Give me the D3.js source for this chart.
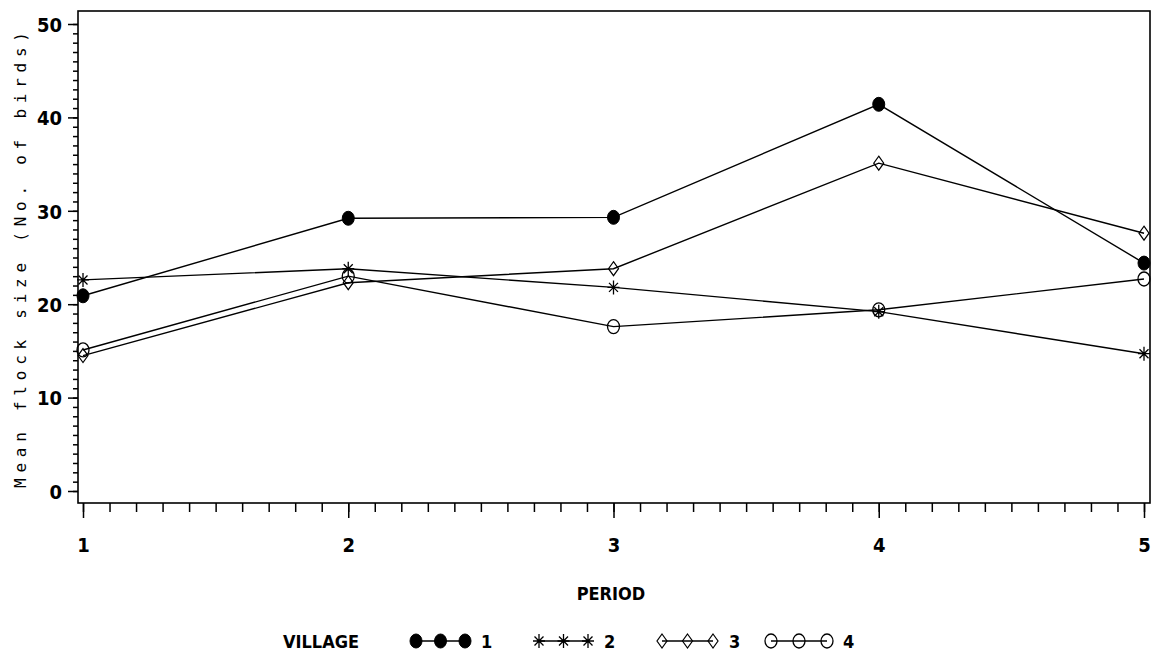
<!DOCTYPE html>
<html>
<head>
<meta charset="utf-8">
<script src="https://cdn.jsdelivr.net/npm/d3@7"></script>
<style>
  html, body { margin: 0; padding: 0; background: #fff; }
  svg { display: block; }
  text { font-family: "DejaVu Sans Condensed", "DejaVu Sans", sans-serif; fill: #000; }
</style>
</head>
<body>
<svg id="chart" width="1152" height="655"></svg>
<script>
// ---- data ----
const periods = [1, 2, 3, 4, 5];
const villages = ["1", "2", "3", "4"];
const village1 = [20.9, 29.2, 29.3, 41.4, 24.4];
const village2 = [22.6, 23.8, 21.8, 19.2, 14.7];
const village3 = [14.5, 22.3, 23.8, 35.1, 27.6];
const village4 = [15.1, 23.0, 17.6, 19.4, 22.7];
const yTicks = [0, 10, 20, 30, 40, 50];
const xTicks = [1, 2, 3, 4, 5];
const yTitle = "Mean flock size (No. of birds)";
const xTitle = "PERIOD";
const legendTitle = "VILLAGE";

const seriesValues = [village1, village2, village3, village4];
const markerTypes = ["dot", "star", "diamond", "circle"];

// ---- layout ----
const svg = d3.select("#chart");
svg.append("rect").attr("width", 1152).attr("height", 655).attr("fill", "#fff");

const frame = { left: 78, right: 1150, top: 11, bottom: 503 };
const x = d3.scaleLinear().domain([1, 5]).range([83, 1144]);
const y = d3.scaleLinear().domain([0, 50]).range([491, 24]);

// frame
svg.append("rect")
  .attr("x", frame.left).attr("y", frame.top)
  .attr("width", frame.right - frame.left).attr("height", frame.bottom - frame.top)
  .attr("fill", "none").attr("stroke", "#000").attr("stroke-width", 1.6);

// y axis minor ticks
const yMinor = d3.range(0, 51, 1);
const yAxisMinor = svg.append("g").attr("transform", `translate(${frame.left},0)`)
  .call(d3.axisLeft(y).tickValues(yMinor).tickSize(5).tickFormat(""));
const yAxisMajor = svg.append("g").attr("transform", `translate(${frame.left},0)`)
  .call(d3.axisLeft(y).tickValues(yTicks).tickSize(10).tickPadding(6).tickFormat(d3.format("d")));
[yAxisMinor, yAxisMajor].forEach(g => {
  g.select(".domain").remove();
  g.selectAll("line").attr("stroke", "#000").attr("stroke-width", 1.5);
});
yAxisMajor.selectAll("text")
  .attr("font-size", 20).attr("font-weight", "bold")
  .style("font-family", '"DejaVu Sans Condensed", "DejaVu Sans", sans-serif')
  .attr("dy", "0.36em");

// x axis
const xMinor = d3.range(10, 51, 1).map(v => v / 10);
const xAxisMinor = svg.append("g").attr("transform", `translate(0,${frame.bottom})`)
  .call(d3.axisBottom(x).tickValues(xMinor).tickSize(9).tickFormat(""));
const xAxisMajor = svg.append("g").attr("transform", `translate(0,${frame.bottom})`)
  .call(d3.axisBottom(x).tickValues(xTicks).tickSize(15).tickPadding(20).tickFormat(d3.format("d")));
[xAxisMinor, xAxisMajor].forEach(g => {
  g.select(".domain").remove();
  g.selectAll("line").attr("stroke", "#000").attr("stroke-width", 1.5);
});
xAxisMajor.selectAll("text")
  .attr("font-size", 20).attr("font-weight", "bold")
  .style("font-family", '"DejaVu Sans Condensed", "DejaVu Sans", sans-serif');

// axis titles
svg.append("text")
  .attr("transform", "translate(26,260) rotate(-90)")
  .attr("text-anchor", "middle")
  .attr("font-size", 16)
  .style("font-family", '"DejaVu Sans Mono", monospace')
  .attr("textLength", 456).attr("lengthAdjust", "spacing")
  .text(yTitle);

svg.append("text")
  .attr("x", 611).attr("y", 600)
  .attr("text-anchor", "middle")
  .attr("font-size", 18).attr("font-weight", "bold")
  .text(xTitle);

// ---- markers ----
function drawMarker(g, type, cx, cy) {
  if (type === "dot") {
    g.append("ellipse").attr("cx", cx).attr("cy", cy).attr("rx", 6).attr("ry", 7)
      .attr("fill", "#000").attr("stroke", "#000");
  } else if (type === "circle") {
    g.append("ellipse").attr("cx", cx).attr("cy", cy).attr("rx", 6).attr("ry", 7)
      .attr("fill", "none").attr("stroke", "#000").attr("stroke-width", 1.3);
  } else if (type === "diamond") {
    const p = d3.path();
    p.moveTo(cx, cy - 7); p.lineTo(cx + 5, cy); p.lineTo(cx, cy + 7); p.lineTo(cx - 5, cy); p.closePath();
    g.append("path").attr("d", p.toString()).attr("fill", "none").attr("stroke", "#000").attr("stroke-width", 1.2);
  } else if (type === "star") {
    const p = d3.path();
    p.moveTo(cx, cy - 7); p.lineTo(cx, cy + 7);
    p.moveTo(cx - 6, cy); p.lineTo(cx + 6, cy);
    p.moveTo(cx - 4.5, cy - 4.5); p.lineTo(cx + 4.5, cy + 4.5);
    p.moveTo(cx - 4.5, cy + 4.5); p.lineTo(cx + 4.5, cy - 4.5);
    g.append("path").attr("d", p.toString()).attr("fill", "none").attr("stroke", "#000").attr("stroke-width", 1.3);
  }
}

// ---- lines ----
const line = d3.line().x((d, i) => x(periods[i])).y(d => y(d));
const plot = svg.append("g");
seriesValues.forEach(vals => {
  plot.append("path").attr("d", line(vals))
    .attr("fill", "none").attr("stroke", "#000").attr("stroke-width", 1.4);
});
seriesValues.forEach((vals, si) => {
  vals.forEach((v, i) => drawMarker(plot, markerTypes[si], x(periods[i]), y(v)));
});

// ---- legend ----
const legendY = 641;
svg.append("text").attr("x", 283).attr("y", legendY + 7)
  .attr("font-size", 18).attr("font-weight", "bold").text(legendTitle);
const legendStarts = [416, 539, 662, 771];
const legendStep = [24.5, 24.5, 25.5, 28];
const leg = svg.append("g");
villages.forEach((v, si) => {
  const x0 = legendStarts[si];
  const x1 = x0 + legendStep[si] * 2;
  leg.append("line").attr("x1", x0).attr("x2", x1).attr("y1", legendY).attr("y2", legendY)
    .attr("stroke", "#000").attr("stroke-width", 1.4);
  for (let k = 0; k < 3; k++) drawMarker(leg, markerTypes[si], x0 + legendStep[si] * k, legendY);
  leg.append("text").attr("x", x1 + 16).attr("y", legendY + 7)
    .attr("font-size", 18).attr("font-weight", "bold").text(v);
});
</script>
</body>
</html>
